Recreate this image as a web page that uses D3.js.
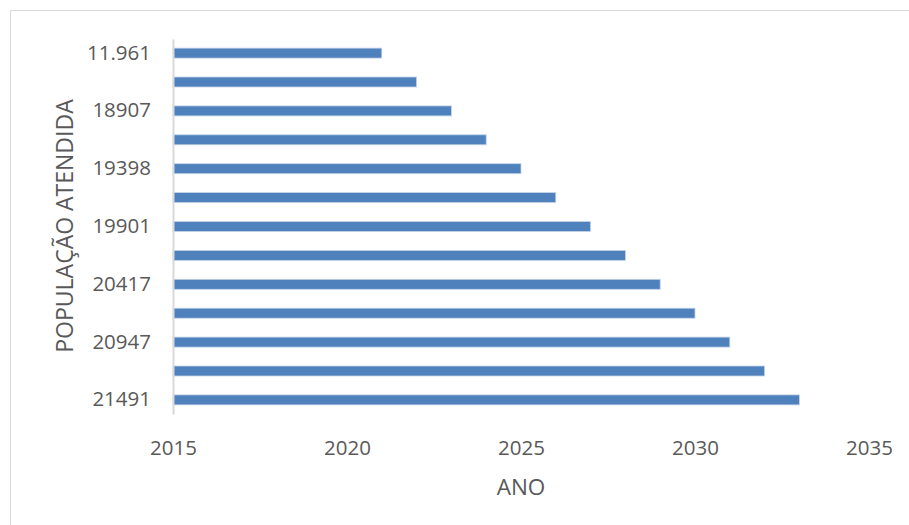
<!DOCTYPE html>
<html>
<head>
<meta charset="utf-8">
<script src="https://cdn.jsdelivr.net/npm/d3@7"></script>
<style>
  body { margin: 0; background: #fff; }
  text { font-family: "Open Sans", sans-serif; fill: #595959; }
</style>
</head>
<body>
<svg id="chart" width="909" height="525"></svg>
<script>
// population served (category axis) and year reached
var populacao = ["11.961", "18650", "18907", "19151", "19398", "19648", "19901",
                 "20157", "20417", "20680", "20947", "21217", "21491"];
var anos = [2021, 2022, 2023, 2024, 2025, 2026, 2027, 2028, 2029, 2030, 2031, 2032, 2033];
var xTicks = [2015, 2020, 2025, 2030, 2035];

var svg = d3.select("#chart");
var margin = {top: 39, right: 40, bottom: 111, left: 173},
    width = 696,
    height = 525 - margin.top - margin.bottom;

// chart frame
svg.append("rect")
    .attr("x", 10.5).attr("y", 10.5)
    .attr("width", 920).attr("height", 540)
    .style("fill", "none")
    .style("stroke", "#d9d9d9");

var g = svg.append("g")
    .attr("transform", "translate(" + margin.left + "," + margin.top + ")");

var x = d3.scaleLinear().domain([2015, 2035]).range([0, width]);
var y = d3.scaleBand().domain(populacao).range([0, height]).paddingInner(0.654).paddingOuter(0.315);

var data = populacao.map(function(p, i) { return {pop: p, ano: anos[i]}; });

g.selectAll(".bar")
    .data(data)
    .enter().append("rect")
    .attr("class", "bar")
    .attr("x", x(2015))
    .attr("y", function(d) { return y(d.pop); })
    .attr("width", function(d) { return x(d.ano) - x(2015); })
    .attr("height", y.bandwidth())
    .style("fill", "#4f81bd")
    .style("stroke", "#c5d4e8")
    .style("stroke-width", 0.8);

// y axis: every other label like Excel does
var yAxis = g.append("g")
    .call(d3.axisLeft(y)
        .tickValues(populacao.filter(function(d, i) { return i % 2 == 0; }))
        .tickSize(0).tickPadding(22));
yAxis.select(".domain").style("stroke", "#d9d9d9").style("stroke-width", 2);
yAxis.selectAll("text")
    .style("font-size", "20.5px")
    .style("fill", "#595959")
    .style("font-family", "'Open Sans', sans-serif");

var xAxis = g.append("g")
    .attr("transform", "translate(0," + (height + 18) + ")")
    .call(d3.axisBottom(x).tickValues(xTicks).tickFormat(d3.format("d")).tickSize(0).tickPadding(8));
xAxis.select(".domain").remove();
xAxis.selectAll("text")
    .style("font-size", "20.5px")
    .style("fill", "#595959")
    .style("font-family", "'Open Sans', sans-serif");

svg.append("text")
    .attr("x", margin.left + x(2025))
    .attr("y", 495)
    .attr("text-anchor", "middle")
    .style("font-size", "22.5px")
    .text("ANO");

svg.append("text")
    .attr("transform", "translate(73,226) rotate(-90)")
    .attr("text-anchor", "middle")
    .style("font-size", "23px")
    .text("POPULAÇÃO ATENDIDA");
</script>
</body>
</html>
